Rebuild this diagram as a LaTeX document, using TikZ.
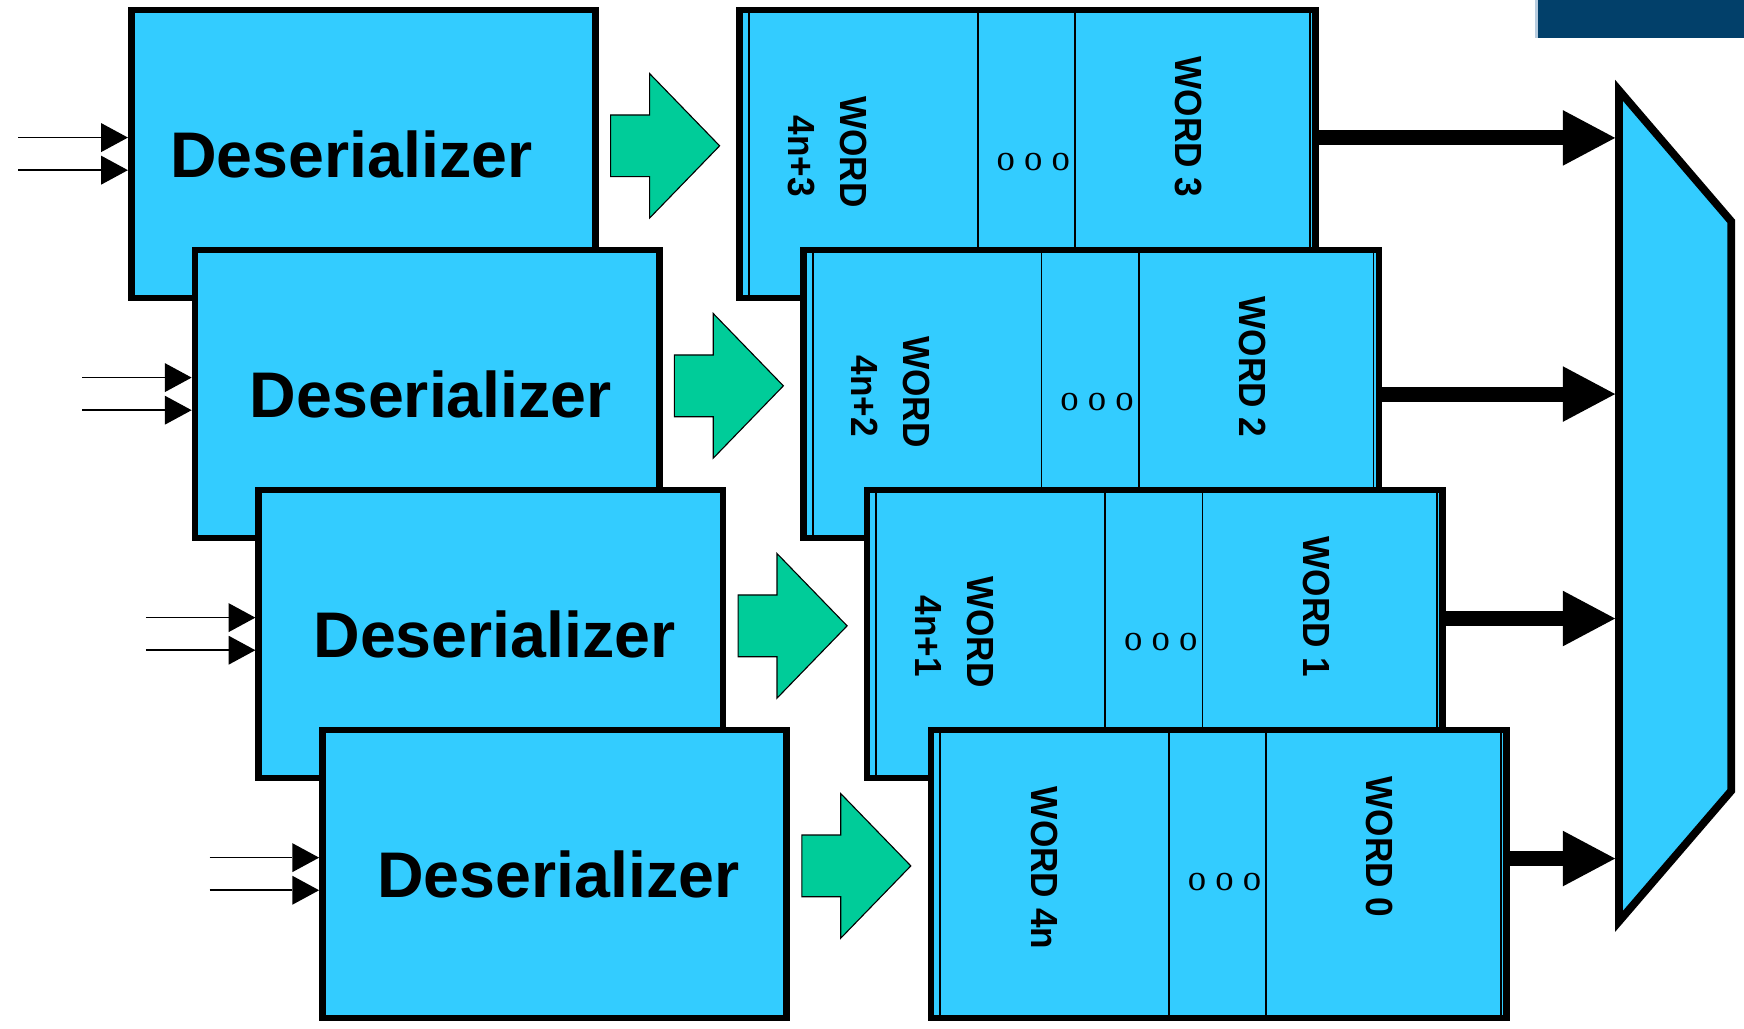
\documentclass[tikz,border=0pt]{standalone}
\usepackage{fontspec}
\setmainfont{Liberation Sans}
\newfontfamily\dotfont{Liberation Serif}
\usetikzlibrary{arrows.meta,calc}
\definecolor{boxblue}{HTML}{33CCFF}
\definecolor{arrowgreen}{HTML}{00CC99}
\definecolor{navyband}{RGB}{2,64,106}
\definecolor{bandstrip}{HTML}{B8CDE0}
\newcommand{\wtxt}[1]{\scalebox{0.93}[1]{#1}}
\begin{document}
\begin{tikzpicture}[x=1pt,y=-1pt,
  desbox/.style={draw=black, fill=boxblue, line width=6pt, minimum width=417.5pt, minimum height=259pt, inner sep=0pt, outer sep=0pt},
  wordbox/.style={draw=black, fill=boxblue, line width=6pt, minimum width=517.5pt, minimum height=259pt, inner sep=0pt, outer sep=0pt},
  destext/.style={font=\fontsize{58}{60}\selectfont\bfseries, inner sep=0pt},
  wordtext/.style={font=\fontsize{34}{36}\selectfont\bfseries, rotate=-90, inner sep=0pt},
  dotstext/.style={font=\dotfont\fontsize{33}{35}\selectfont, inner sep=0pt},
  thinline/.style={line width=1.6pt},
  inarrow/.style={line width=1.5pt, -{Triangle[length=24pt,width=26pt,line width=0pt]}, shorten >=3pt},
  outarrow/.style={line width=13.5pt, -{Triangle[length=47pt,width=50pt,line width=0pt]}, shorten >=3.5pt},
  greenarrow/.style={draw=black, fill=arrowgreen, line width=1pt, line join=miter},
  muxshape/.style={draw=black, fill=boxblue, line width=7pt, line join=miter, miter limit=10},
]
\useasboundingbox (0,0) rectangle (1568,925);

% top-right band
\fill[navyband] (1380,0) rectangle (1568,34.5);
\fill[bandstrip] (1380,0) rectangle (1383,34.5);

% ---------- Deserializers ----------
\foreach \k/\cx/\cy/\tx in {1/326.75/138.5/-10.75, 2/384.05/354.3/3.3, 3/441.35/570.1/3.3, 4/498.65/785.9/3.3}{
  \node[desbox] (D\k) at (\cx,\cy) {};
  \node[destext] (D\k t) at ($(D\k.center)+(\tx,0)$) {Deserializer};
  \coordinate (in\k a) at ($(D\k.north west)+(-101.4,114.7)$);
  \coordinate (in\k b) at ($(D\k.north west)+(-101.4,144)$);
  \draw[inarrow] (in\k a) -- (in\k a -| D\k.west);
  \draw[inarrow] (in\k b) -- (in\k b -| D\k.west);
  \draw[greenarrow] ($(D\k.north east)+(13.5,94.35)$) -- ($(D\k.north east)+(48.5,94.35)$)
     -- ($(D\k.north east)+(48.5,57.1)$) -- ($(D\k.north east)+(111.5,122.1)$)
     -- ($(D\k.north east)+(48.5,187.1)$) -- ($(D\k.north east)+(48.5,149.85)$)
     -- ($(D\k.north east)+(13.5,149.85)$) -- cycle;
}

% ---------- Word registers ----------
\foreach \k/\cx/\cy in {1/923.75/138.5, 2/981.05/354.3, 3/1038.35/570.1, 4/1095.65/785.9}{
  \node[wordbox] (W\k) at (\cx,\cy) {};
  \draw[thinline] ($(W\k.north west)+(8.3,0)$) -- ($(W\k.south west)+(8.3,0)$);
  \draw[thinline] ($(W\k.north east)+(-5,0)$) -- ($(W\k.south east)+(-5,0)$);
  \draw[thinline] ($(W\k.north west)+(214,0)$) -- ($(W\k.south west)+(214,0)$);
  \draw[thinline] ($(W\k.north west)+(301.5,0)$) -- ($(W\k.south west)+(301.5,0)$);
  \node[dotstext] (W\k d) at ($(W\k.north west)+(264,136.3)$) {o o o};
}
\node[wordtext] (W1a) at ($(W1.north west)+(102,127.5)$) {\wtxt{WORD}};
\node[wordtext] (W1b) at ($(W1.north west)+(55.5,131.5)$) {\wtxt{4n+3}};
\node[wordtext] (W1c) at ($(W1.north west)+(403.7,105)$) {\wtxt{WORD 3}};
\node[wordtext] (W2a) at ($(W2.north west)+(102,127.5)$) {\wtxt{WORD}};
\node[wordtext] (W2b) at ($(W2.north west)+(55.5,131.5)$) {\wtxt{4n+2}};
\node[wordtext] (W2c) at ($(W2.north west)+(403.7,105)$) {\wtxt{WORD 2}};
\node[wordtext] (W3a) at ($(W3.north west)+(102,127.5)$) {\wtxt{WORD}};
\node[wordtext] (W3b) at ($(W3.north west)+(55.5,131.5)$) {\wtxt{4n+1}};
\node[wordtext] (W3c) at ($(W3.north west)+(403.7,105)$) {\wtxt{WORD 1}};
\node[wordtext] (W4a) at ($(W4.north west)+(102,124)$) {\wtxt{WORD 4n}};
\node[wordtext] (W4c) at ($(W4.north west)+(403.7,105)$) {\wtxt{WORD 0}};

% ---------- Multiplexer ----------
\coordinate (mtl) at (1455.6,81.2);
\coordinate (mtr) at (1556.5,199);
\coordinate (mbr) at (1556.5,711);
\coordinate (mbl) at (1455.6,828.4);
\draw[muxshape] (mtl) -- (mtr) -- (mbr) -- (mbl) -- cycle;

% ---------- Outputs ----------
\foreach \k/\dy in {1/115, 2/129.5, 3/115.5, 4/115.5}{
  \coordinate (out\k) at ($(W\k.north east)+(0,\dy)$);
  \draw[outarrow] (out\k) -- (out\k -| mtl);
}
\end{tikzpicture}
\end{document}
